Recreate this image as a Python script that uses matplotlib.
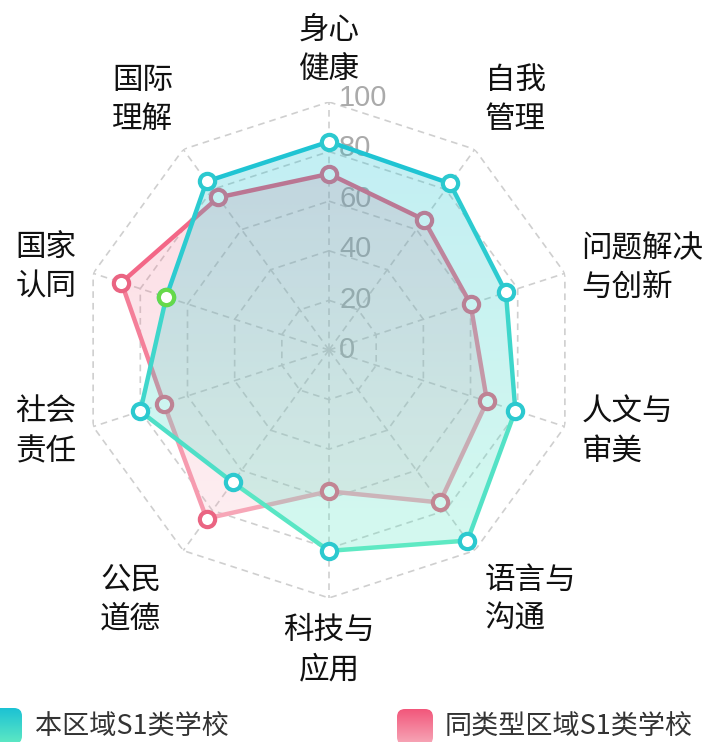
import numpy as np
import matplotlib
matplotlib.use('Agg')
import matplotlib.pyplot as plt
import matplotlib.transforms as mtransforms
from matplotlib.colors import LinearSegmentedColormap
from matplotlib.image import AxesImage
from matplotlib.patches import FancyBboxPatch

plt.rcParams['font.family'] = ['Noto Sans CJK SC', 'DejaVu Sans']

# 数据
categories = ['身心\n健康', '自我\n管理', '问题解决\n与创新', '人文与\n审美', '语言与\n沟通',
              '科技与\n应用', '公民\n道德', '社会\n责任', '国家\n认同', '国际\n理解']
local_scores = [84, 83, 75, 79, 95, 81, 66, 80, 69, 84]   # 本区域S1类学校
peer_scores = [71, 65, 60, 67, 76, 57, 84, 70, 88, 76]    # 同类型区域S1类学校
ring_values = [0, 20, 40, 60, 80, 100]
series_names = ['本区域S1类学校', '同类型区域S1类学校']
highlight = '国家\n认同'

teal_top, teal_bottom = '#1cc2d4', '#5fe9c3'
pink_top, pink_bottom = '#f2577b', '#f7a9b9'

n = len(categories)
theta = np.arange(n) * 2 * np.pi / n
theta_c = np.append(theta, theta[0])

fig = plt.figure(figsize=(7.08, 7.42), dpi=100)
ax = fig.add_axes([0.1144, 0.1941, 0.7006, 0.6685], projection='polar')
ax.set_theta_zero_location('N')
ax.set_theta_direction(-1)
ax.set_ylim(0, 100)
ax.grid(False)
ax.set_xticks([])
ax.set_yticks([])
ax.spines['polar'].set_visible(False)
ax.patch.set_visible(False)

# 网格
grid_kw = dict(color='#cfcfcf', lw=1.2, ls=(0, (4, 3)), zorder=1)
for v in ring_values[1:]:
    ax.plot(theta_c, [v] * (n + 1), **grid_kw)
for t in theta:
    ax.plot([t, t], [0, ring_values[-1]], **grid_kw)

# 刻度
for v in ring_values:
    off = mtransforms.offset_copy(ax.transData, fig=fig, x=10, y=0.04 * v, units='dots')
    ax.text(0, v, str(v), transform=off, ha='left', va='center', fontsize=21,
            color='#aaaaaa', family='Liberation Sans', zorder=2)


def gradient_fill(values, top, bottom, alpha, z):
    vals = np.append(values, values[0])
    poly = ax.fill(theta_c, vals, facecolor='none', edgecolor='none', zorder=z)[0]
    vert = vals * np.cos(theta_c)
    hi, lo = vert.max(), vert.min()
    cmap = LinearSegmentedColormap.from_list('g', [top, bottom])
    im = AxesImage(ax, cmap=cmap, origin='upper', interpolation='bilinear',
                   extent=(0, 1, 0.5 + lo / 200, 0.5 + hi / 200), transform=ax.transAxes)
    im.set_data(np.linspace(0, 1, 256).reshape(-1, 1))
    im.set_clim(0, 1)
    im.set_alpha(alpha)
    im.set_zorder(z)
    ax.add_image(im)
    im.set_clip_path(poly)


def gradient_line(values, top, bottom, z):
    vals = np.append(values, values[0])
    vert = vals * np.cos(theta_c)
    hi, lo = vert.max(), vert.min()
    cmap = LinearSegmentedColormap.from_list('g', [top, bottom])
    for i in range(n):
        mid = (vert[i] + vert[i + 1]) / 2
        ax.plot(theta_c[i:i + 2], vals[i:i + 2], color=cmap((hi - mid) / (hi - lo)), lw=3.2,
                solid_capstyle='round', zorder=z)


# 同类型区域
gradient_fill(peer_scores, pink_top, pink_bottom, 0.2, 3)
gradient_line(peer_scores, pink_top, pink_bottom, 4)
ax.plot(theta, peer_scores, ls='none', marker='o', ms=11, mfc='white', mec='#ea6482', mew=3, zorder=5)

# 本区域
gradient_fill(local_scores, teal_top, teal_bottom, 0.27, 6)
gradient_line(local_scores, teal_top, teal_bottom, 7)
ax.plot(theta, local_scores, ls='none', marker='o', ms=11, mfc='white', mec='#2cc9cf', mew=3, zorder=8)
hi_i = categories.index(highlight)
ax.plot(theta[hi_i], local_scores[hi_i], ls='none', marker='o', ms=11, mfc='white',
        mec='#66d94a', mew=3, zorder=9)

# 维度名称
nudge = {'公民\n道德': -12}
for t, lab in zip(theta, categories):
    s, c = np.sin(t), np.cos(t)
    ha = 'left' if s > 0.1 else ('right' if s < -0.1 else 'center')
    va = 'bottom' if c > 0.5 else ('top' if c < -0.5 else 'center')
    tr = mtransforms.offset_copy(ax.transData, fig=fig, x=nudge.get(lab, 0), y=0, units='dots')
    ax.text(t, 107, lab, transform=tr, ha=ha, va=va, fontsize=22, color='#111111',
            fontweight='medium', linespacing=1.33, multialignment=ha)

ax.set_ylim(0, 100)

# 图例
lax = fig.add_axes([0, 0, 1, 1])
lax.axis('off')
legend_items = [(-14, 708, teal_top, teal_bottom, 35, series_names[0]),
                (397, 709, pink_top, pink_bottom, 445, series_names[1])]
grad = np.linspace(0, 1, 64).reshape(-1, 1)
for x0, y0, ctop, cbot, tx, name in legend_items:
    cmap = LinearSegmentedColormap.from_list('l', [ctop, cbot])
    im = lax.imshow(grad, cmap=cmap, extent=(x0, x0 + 36, y0 + 36, y0), aspect='auto',
                    origin='upper', zorder=2)
    box = FancyBboxPatch((x0, y0), 36, 36, boxstyle='round,pad=0,rounding_size=8',
                         transform=lax.transData)
    im.set_clip_path(box)
    lax.text(tx, 726, name, ha='left', va='center', fontsize=19.5, color='#333333',
             fontweight='medium')
lax.set_xlim(0, 708)
lax.set_ylim(742, 0)

fig.savefig('out.png', dpi=100)
